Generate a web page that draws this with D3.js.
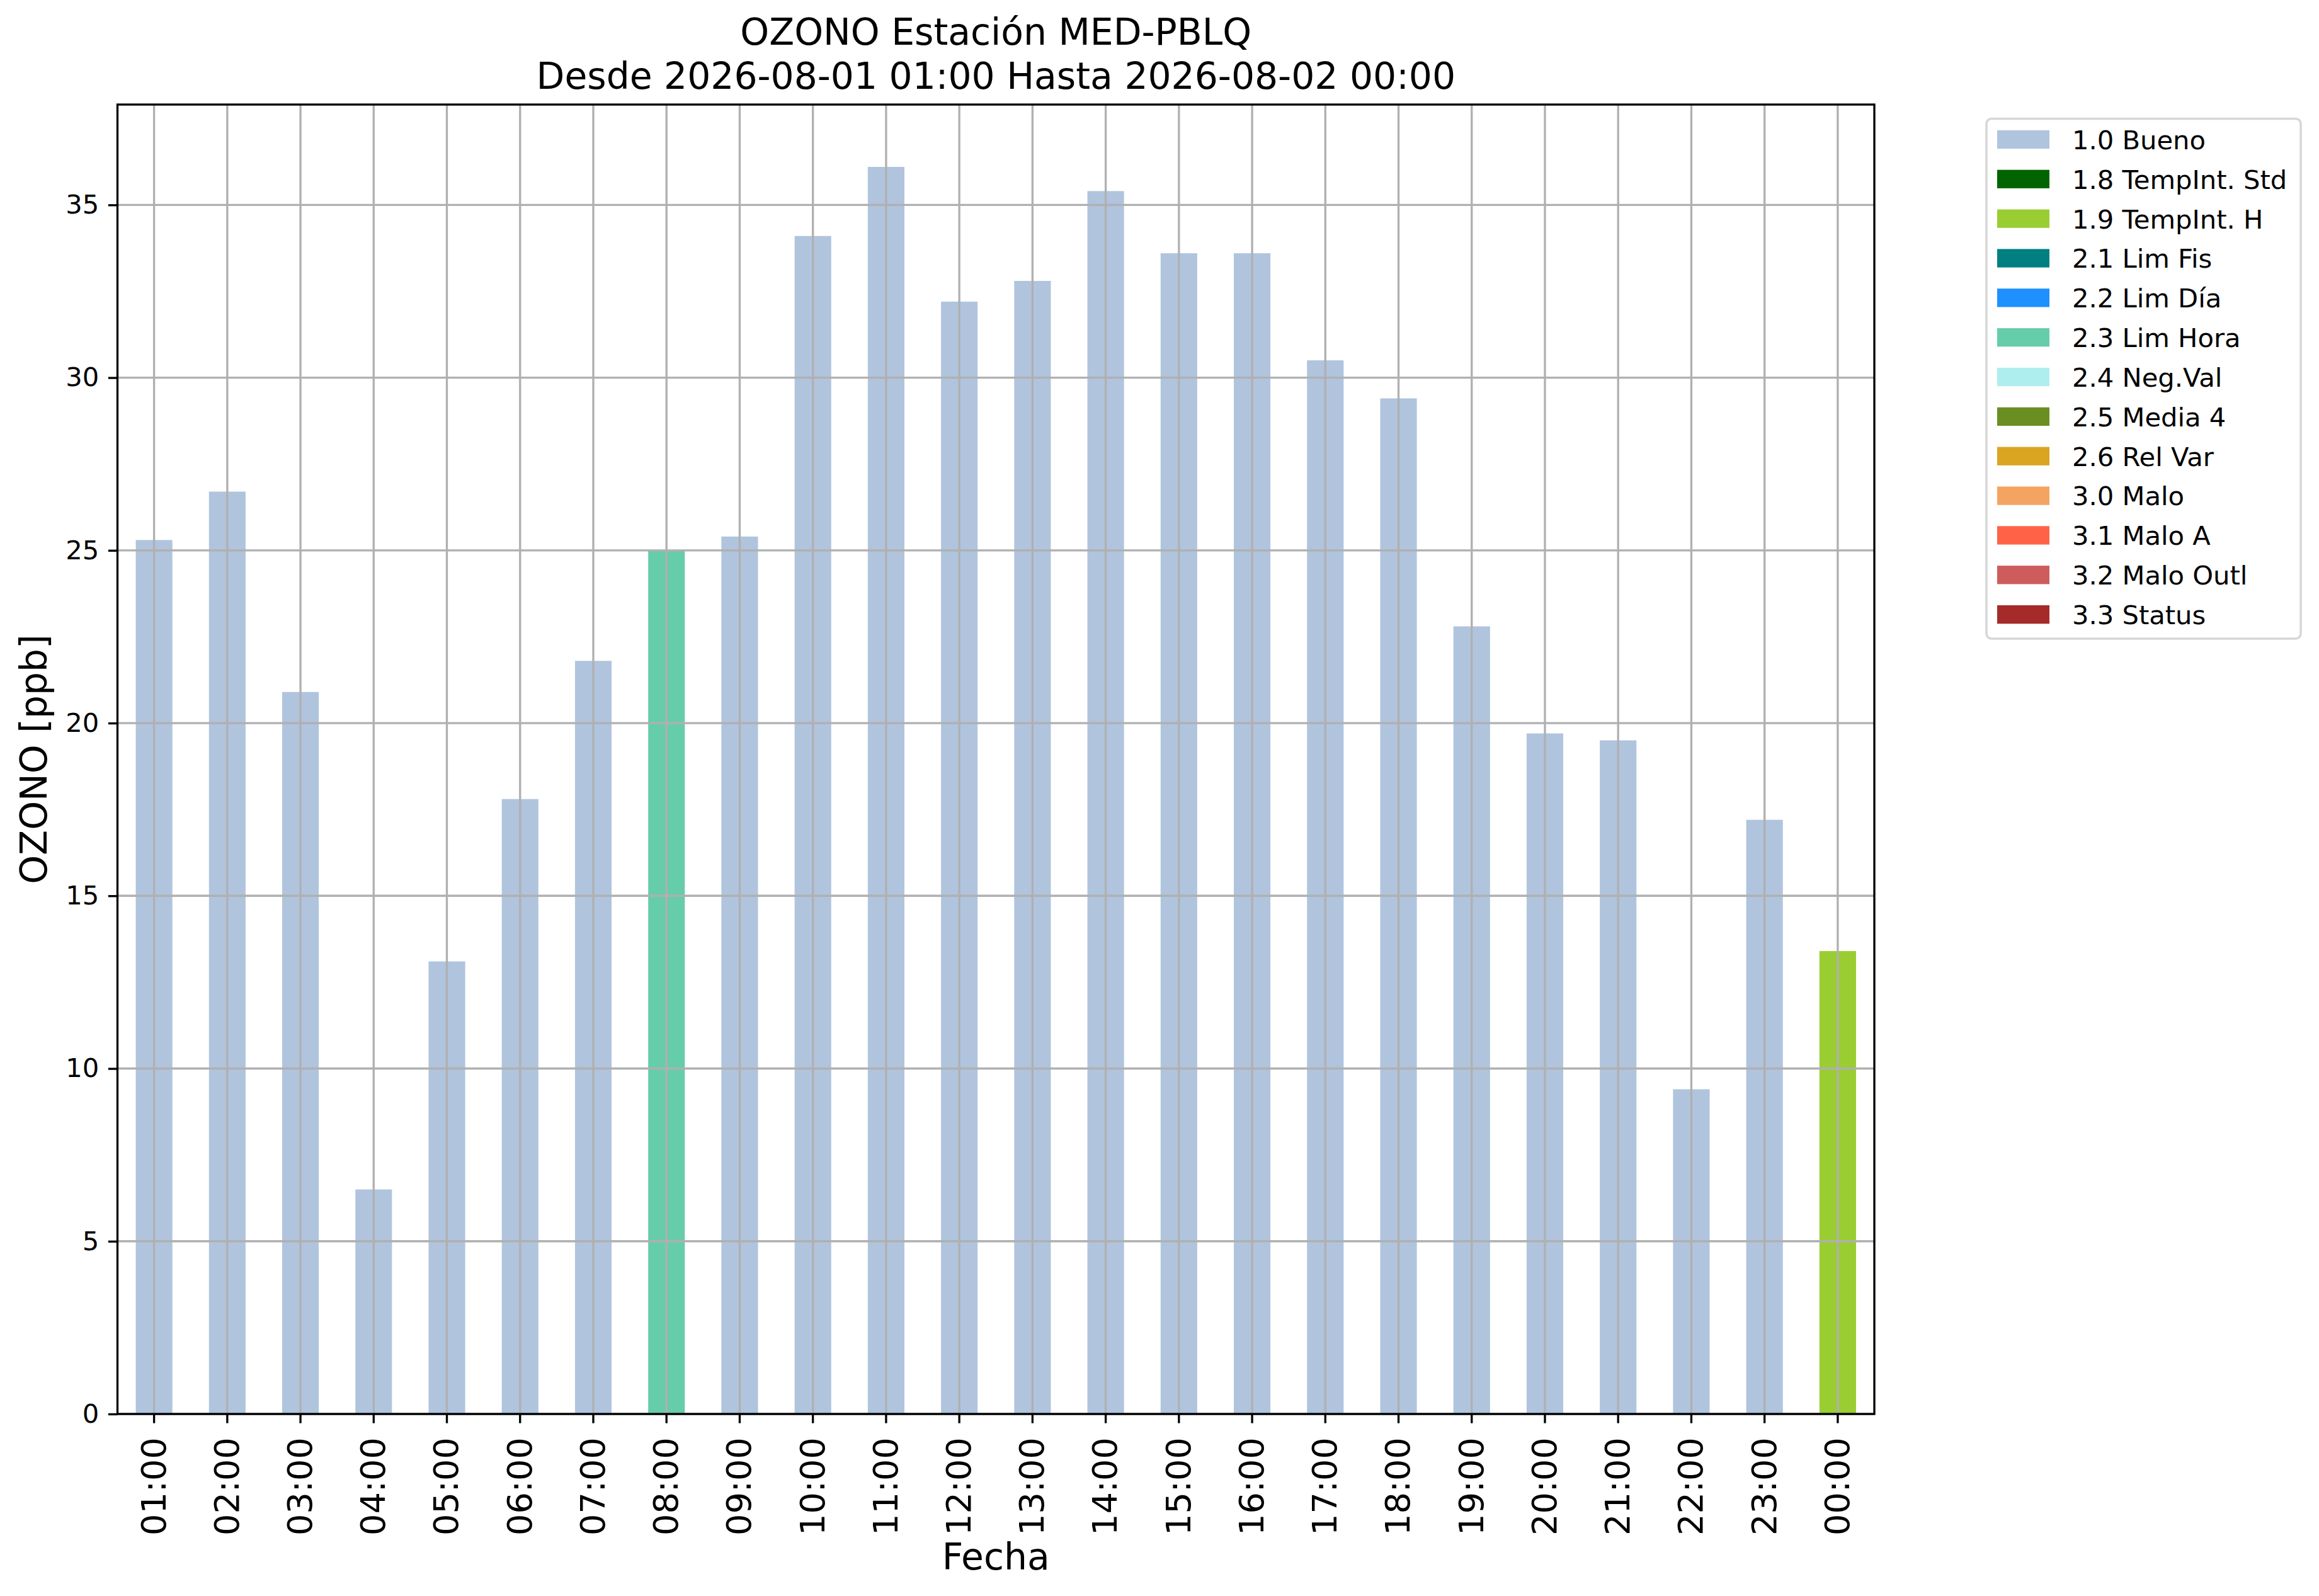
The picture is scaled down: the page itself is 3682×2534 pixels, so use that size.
<!DOCTYPE html>
<html>
<head>
<meta charset="utf-8">
<script src="https://cdn.jsdelivr.net/npm/d3@7"></script>
<style>
  body { margin: 0; background: #fff; }
  text { font-family: "DejaVu Sans", sans-serif; fill: #000; }
</style>
</head>
<body>
<div id="area"></div>
<script>
// hourly values, one bar per hour
const hours = ['01:00', '02:00', '03:00', '04:00', '05:00', '06:00', '07:00', '08:00',
    '09:00', '10:00', '11:00', '12:00', '13:00', '14:00', '15:00', '16:00',
    '17:00', '18:00', '19:00', '20:00', '21:00', '22:00', '23:00', '00:00'];
const ozone = [25.3, 26.7, 20.9, 6.5, 13.1, 17.8, 21.8, 25.0,
    25.4, 34.1, 36.1, 32.2, 32.8, 35.4, 33.6, 33.6,
    30.5, 29.4, 22.8, 19.7, 19.5, 9.4, 17.2, 13.4];
const flags = ['1.0 Bueno', '1.0 Bueno', '1.0 Bueno', '1.0 Bueno', '1.0 Bueno', '1.0 Bueno', '1.0 Bueno', '2.3 Lim Hora',
    '1.0 Bueno', '1.0 Bueno', '1.0 Bueno', '1.0 Bueno', '1.0 Bueno', '1.0 Bueno', '1.0 Bueno', '1.0 Bueno',
    '1.0 Bueno', '1.0 Bueno', '1.0 Bueno', '1.0 Bueno', '1.0 Bueno', '1.0 Bueno', '1.0 Bueno', '1.9 TempInt. H'];

// legend categories and their colours
const flag_labels = ['1.0 Bueno', '1.8 TempInt. Std', '1.9 TempInt. H', '2.1 Lim Fis', '2.2 Lim Día',
    '2.3 Lim Hora', '2.4 Neg.Val', '2.5 Media 4', '2.6 Rel Var', '3.0 Malo', '3.1 Malo A',
    '3.2 Malo Outl', '3.3 Status'];
const flag_colors = ['#B0C4DE', '#006400', '#9ACD32', '#008080', '#1E90FF',
    '#66CDAA', '#AFEEEE', '#6B8E23', '#DAA520', '#F4A460', '#FF6347',
    '#CD5C5C', '#A52A2A'];

const y_ticks = [0, 5, 10, 15, 20, 25, 30, 35];
const title_lines = ['OZONO Estación MED-PBLQ', 'Desde 2026-08-01 01:00 Hasta 2026-08-02 00:00'];

var fig_width = 3682,
    fig_height = 2534,
    ax_left = 186.5, ax_right = 2976, ax_top = 166, ax_bottom = 2245,
    lw = 3.33,
    tick_len = 14.6,
    grid_color = '#b0b0b0';

const color = d3.scaleOrdinal().domain(flag_labels).range(flag_colors);

window.onload = main;

function main() {
    const svg = d3.select('#area').append('svg')
        .attr('width', fig_width)
        .attr('height', fig_height)
        .style('background-color', '#fff');

    const x = d3.scaleBand().domain(hours).range([ax_left, ax_right])
        .paddingInner(0.5).paddingOuter(0.25);
    const y = d3.scaleLinear().domain([0, d3.max(ozone) * 1.05]).range([ax_bottom, ax_top]);

    // bars
    svg.append('g').selectAll('rect')
        .data(hours)
        .join('rect')
        .attr('x', d => x(d))
        .attr('width', x.bandwidth())
        .attr('y', (d, i) => y(ozone[i]))
        .attr('height', (d, i) => y(0) - y(ozone[i]))
        .attr('fill', (d, i) => color(flags[i]));

    // grid on top of the bars, like the original
    const grid = svg.append('g');
    grid.selectAll('line.h')
        .data(y_ticks)
        .join('line')
        .attr('class', 'h')
        .attr('x1', ax_left).attr('x2', ax_right)
        .attr('y1', d => y(d)).attr('y2', d => y(d))
        .attr('stroke', grid_color).attr('stroke-width', lw);
    grid.selectAll('line.v')
        .data(hours)
        .join('line')
        .attr('class', 'v')
        .attr('x1', d => x(d) + x.bandwidth() / 2).attr('x2', d => x(d) + x.bandwidth() / 2)
        .attr('y1', ax_top).attr('y2', ax_bottom)
        .attr('stroke', grid_color).attr('stroke-width', lw);

    // y axis
    const gy = svg.append('g')
        .attr('transform', `translate(${ax_left},0)`)
        .call(d3.axisLeft(y).tickValues(y_ticks).tickFormat(d3.format('d'))
            .tickSize(tick_len).tickSizeOuter(0).tickPadding(tick_len));
    gy.select('.domain').remove();
    gy.selectAll('line').attr('stroke', '#000').attr('stroke-width', lw);
    gy.selectAll('text').attr('font-size', '41.67px')
        .style('font-family', '"DejaVu Sans", sans-serif');

    // x axis, labels rotated
    const gx = svg.append('g')
        .attr('transform', `translate(0,${ax_bottom})`)
        .call(d3.axisBottom(x).tickSize(tick_len).tickSizeOuter(0));
    gx.select('.domain').remove();
    gx.selectAll('line').attr('stroke', '#000').attr('stroke-width', lw);
    gx.selectAll('text')
        .attr('font-size', '54.17px')
        .style('font-family', '"DejaVu Sans", sans-serif')
        .attr('transform', 'rotate(-90)')
        .attr('text-anchor', 'end')
        .attr('x', -37)
        .attr('y', 0)
        .attr('dy', '0.33em');

    // frame
    svg.append('rect')
        .attr('x', ax_left).attr('y', ax_top)
        .attr('width', ax_right - ax_left).attr('height', ax_bottom - ax_top)
        .attr('fill', 'none').attr('stroke', '#000').attr('stroke-width', lw);

    // title
    svg.append('g').selectAll('text')
        .data(title_lines)
        .join('text')
        .attr('x', (ax_left + ax_right) / 2)
        .attr('y', (d, i) => 71 + i * 70)
        .attr('text-anchor', 'middle')
        .attr('font-size', '58.33px')
        .text(d => d);

    // axis labels
    svg.append('text')
        .attr('transform', `translate(74,${(ax_top + ax_bottom) / 2}) rotate(-90)`)
        .attr('text-anchor', 'middle')
        .attr('font-size', '58.33px')
        .text('OZONO [ppb]');
    svg.append('text')
        .attr('x', (ax_left + ax_right) / 2)
        .attr('y', 2492)
        .attr('text-anchor', 'middle')
        .attr('font-size', '58.33px')
        .text('Fecha');

    drawLegend(svg);
}

function drawLegend(svg) {
    var lx = 3154, ly = 188.5, row = 62.85;
    const legend = svg.append('g');
    legend.append('rect')
        .attr('x', lx).attr('y', ly)
        .attr('width', 499).attr('height', 825.5)
        .attr('rx', 8).attr('ry', 8)
        .attr('fill', '#fff')
        .attr('stroke', '#d6d6d6').attr('stroke-width', 3.5);

    const items = legend.selectAll('g.item')
        .data(flag_labels)
        .join('g')
        .attr('class', 'item')
        .attr('transform', (d, i) => `translate(0,${206.8 + i * row})`);
    items.append('rect')
        .attr('x', 3171).attr('y', 0)
        .attr('width', 83).attr('height', 29.3)
        .attr('fill', d => color(d));
    items.append('text')
        .attr('x', 3290).attr('y', 30)
        .attr('font-size', '41.67px')
        .text(d => d);
}
</script>
</body>
</html>
